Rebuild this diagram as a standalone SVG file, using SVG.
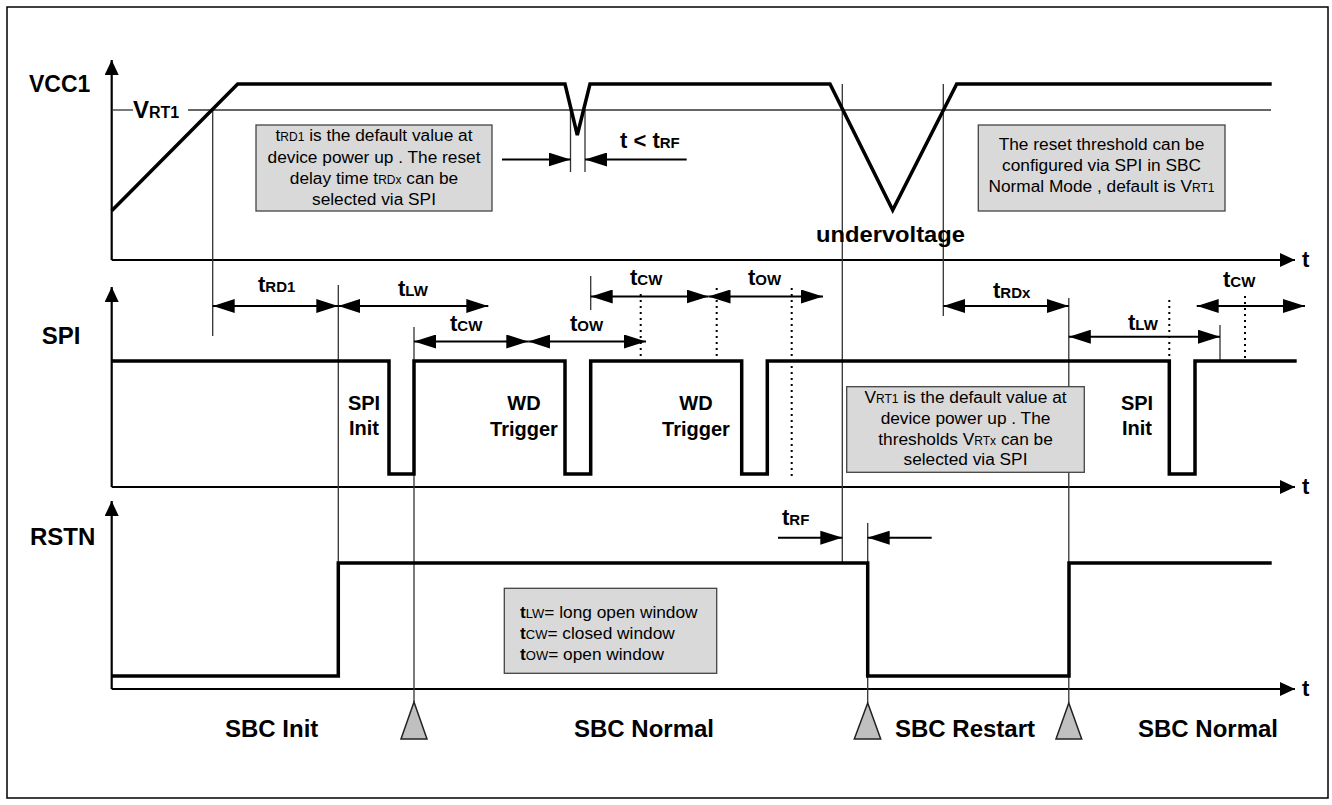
<svg xmlns="http://www.w3.org/2000/svg" width="1332" height="805" viewBox="0 0 1332 805">
<style>
text{font-family:"Liberation Sans",Arial,sans-serif;fill:#000}
.b{font-weight:bold}
.ax{font-weight:bold;font-size:24px}
.lb{font-weight:bold;font-size:20px}
.tl{font-weight:bold;font-size:22px}
.ts{font-size:15px}
.bx{font-size:17.3px}
.bs{font-size:12px}
.ls{font-size:13px}
.sig{fill:none;stroke:#000;stroke-width:3.5;stroke-linejoin:miter}
.axis{fill:none;stroke:#000;stroke-width:2.2}
.thin{fill:none;stroke:#333;stroke-width:1.3}
.dot{fill:none;stroke:#000;stroke-width:2;stroke-dasharray:2 4}
.dim{fill:none;stroke:#000;stroke-width:2}
.box{fill:#d9d9d9;stroke:#444;stroke-width:1.3}
.tri{fill:#c0c0c0;stroke:#222;stroke-width:1.5}
</style>
<defs>
<marker id="ah" markerUnits="userSpaceOnUse" markerWidth="22" markerHeight="14" refX="22" refY="7" orient="auto-start-reverse"><path d="M0,0 L22,7 L0,14 z" fill="#000"/></marker>
<marker id="axh" markerUnits="userSpaceOnUse" markerWidth="15" markerHeight="14" refX="15" refY="7" orient="auto"><path d="M0,0 L15,7 L0,14 z" fill="#000"/></marker>
</defs>
<rect x="7" y="7" width="1321" height="791" fill="#fff" stroke="#000" stroke-width="1.5"/>

<g id="axes">
<polyline class="axis" points="111.7,260 111.7,60" marker-end="url(#axh)"/>
<polyline class="axis" points="111.7,260 1295,260" marker-end="url(#axh)"/>
<polyline class="axis" points="111.7,487 111.7,287" marker-end="url(#axh)"/>
<polyline class="axis" points="111.7,487 1295,487" marker-end="url(#axh)"/>
<polyline class="axis" points="111.7,689 111.7,501" marker-end="url(#axh)"/>
<polyline class="axis" points="111.7,689 1295,689" marker-end="url(#axh)"/>
<text class="tl" x="1302" y="267">t</text>
<text class="tl" x="1302" y="494">t</text>
<text class="tl" x="1302" y="696">t</text>
<text x="29" y="92" class="b" font-size="23">VCC1</text>
<text x="41.7" y="344" class="ax">SPI</text>
<text x="30" y="545" class="ax">RSTN</text>
</g>

<g id="threshold">
<line class="thin" x1="111.7" y1="110" x2="133" y2="110"/>
<line class="thin" x1="188" y1="110" x2="1271" y2="110"/>
<text x="133" y="118" class="b" font-size="24">V<tspan font-size="16">RT1</tspan></text>
</g>

<g id="guides">
<line class="thin" x1="212.7" y1="110" x2="212.7" y2="336"/>
<line class="thin" x1="338.3" y1="285" x2="338.3" y2="563"/>
<line class="thin" x1="414" y1="327" x2="414" y2="702"/>
<line class="thin" x1="590.7" y1="276" x2="590.7" y2="310"/>
<line class="thin" x1="570.5" y1="110" x2="570.5" y2="172"/>
<line class="thin" x1="585" y1="110" x2="585" y2="172"/>
<line class="thin" x1="842.3" y1="84" x2="842.3" y2="563"/>
<line class="thin" x1="867.7" y1="523" x2="867.7" y2="703"/>
<line class="thin" x1="943.3" y1="84" x2="943.3" y2="316"/>
<line class="thin" x1="1068.8" y1="298" x2="1068.8" y2="703"/>
<line class="thin" x1="1220" y1="325" x2="1220" y2="360"/>
<line class="dot" x1="640.7" y1="294" x2="640.7" y2="360"/>
<line class="dot" x1="716.7" y1="288" x2="716.7" y2="360"/>
<line class="dot" x1="791.7" y1="288" x2="791.7" y2="476"/>
<line class="dot" x1="1169.3" y1="300" x2="1169.3" y2="360"/>
<line class="dot" x1="1245" y1="296" x2="1245" y2="360"/>
</g>

<g id="signals">
<polyline id="vcc1" class="sig" points="111.7,210.7 237.7,84 565,84 577.3,135 590,84 830,84 892.7,210 956.7,84 1271.7,84"/>
<polyline id="spi" class="sig" points="111.7,361 389,361 389,474 414,474 414,361 565,361 565,474 590.7,474 590.7,361 741.7,361 741.7,474 767.3,474 767.3,361 1169.3,361 1169.3,474 1195,474 1195,361 1296.7,361"/>
<polyline id="rstn" class="sig" points="111.7,676 338.3,676 338.3,563 867.7,563 867.7,676 1069,676 1069,563 1271.7,563"/>
</g>

<g id="connectors">
<line class="dim" x1="212.7" y1="306" x2="338.3" y2="306" marker-start="url(#ah)" marker-end="url(#ah)"/>
<line class="dim" x1="338.3" y1="306" x2="488.3" y2="306" marker-start="url(#ah)" marker-end="url(#ah)"/>
<line class="dim" x1="414" y1="341.5" x2="528.3" y2="341.5" marker-start="url(#ah)" marker-end="url(#ah)"/>
<line class="dim" x1="528.3" y1="341.5" x2="646" y2="341.5" marker-start="url(#ah)" marker-end="url(#ah)"/>
<line class="dim" x1="590.7" y1="296.5" x2="708.5" y2="296.5" marker-start="url(#ah)" marker-end="url(#ah)"/>
<line class="dim" x1="708.5" y1="296.5" x2="823" y2="296.5" marker-start="url(#ah)" marker-end="url(#ah)"/>
<line class="dim" x1="943.3" y1="306" x2="1068.8" y2="306" marker-start="url(#ah)" marker-end="url(#ah)"/>
<line class="dim" x1="1068.8" y1="336.7" x2="1220" y2="336.7" marker-start="url(#ah)" marker-end="url(#ah)"/>
<line class="dim" x1="1196.7" y1="306" x2="1305" y2="306" marker-start="url(#ah)" marker-end="url(#ah)"/>
<line class="dim" x1="502" y1="159.5" x2="570.5" y2="159.5" marker-end="url(#ah)"/>
<line class="dim" x1="686.7" y1="159.5" x2="585" y2="159.5" marker-end="url(#ah)"/>
<line class="dim" x1="778" y1="537.7" x2="842.3" y2="537.7" marker-end="url(#ah)"/>
<line class="dim" x1="931.7" y1="537.7" x2="867.7" y2="537.7" marker-end="url(#ah)"/>
</g>

<g id="timing-labels">
<text class="tl" x="258" y="292">t<tspan class="ts">RD1</tspan></text>
<text class="tl" x="398" y="296">t<tspan class="ts">LW</tspan></text>
<text class="tl" x="450" y="331">t<tspan class="ts">CW</tspan></text>
<text class="tl" x="570" y="331">t<tspan class="ts">OW</tspan></text>
<text class="tl" x="630" y="285">t<tspan class="ts">CW</tspan></text>
<text class="tl" x="748" y="285">t<tspan class="ts">OW</tspan></text>
<text class="tl" x="993" y="298">t<tspan class="ts">RDx</tspan></text>
<text class="tl" x="1128" y="330">t<tspan class="ts">LW</tspan></text>
<text class="tl" x="1223" y="287">t<tspan class="ts">CW</tspan></text>
<text class="tl" x="620" y="148">t &lt; t<tspan class="ts">RF</tspan></text>
<text class="tl" x="782" y="525">t<tspan class="ts">RF</tspan></text>
<text class="b" font-size="22" x="816" y="242" textLength="149" lengthAdjust="spacingAndGlyphs">undervoltage</text>
</g>

<g id="event-labels" text-anchor="middle">
<text class="lb" x="364" y="410">SPI</text>
<text class="lb" x="364" y="435">Init</text>
<text class="lb" x="524" y="410">WD</text>
<text class="lb" x="524" y="436">Trigger</text>
<text class="lb" x="696" y="410">WD</text>
<text class="lb" x="696" y="436">Trigger</text>
<text class="lb" x="1137" y="410">SPI</text>
<text class="lb" x="1137" y="435">Init</text>
</g>

<g id="box1">
<rect class="box" x="256" y="125" width="236" height="86"/>
<text class="bx" text-anchor="middle" x="374" y="141">t<tspan class="bs">RD1</tspan> is the default value at</text>
<text class="bx" text-anchor="middle" x="374" y="162.5">device power up . The reset</text>
<text class="bx" text-anchor="middle" x="374" y="184">delay time t<tspan class="bs">RDx</tspan> can be</text>
<text class="bx" text-anchor="middle" x="374" y="205">selected via SPI</text>
</g>

<g id="box3">
<rect class="box" x="978.3" y="125" width="246.7" height="86"/>
<text class="bx" text-anchor="middle" x="1101.5" y="150">The reset threshold can be</text>
<text class="bx" text-anchor="middle" x="1101.5" y="171">configured via SPI in SBC</text>
<text class="bx" text-anchor="middle" x="1101.5" y="192">Normal Mode , default is V<tspan class="bs">RT1</tspan></text>
</g>

<g id="box2">
<rect class="box" x="846.7" y="386.7" width="237.6" height="85.6"/>
<text class="bx" text-anchor="middle" x="965.5" y="402.5">V<tspan class="bs">RT1</tspan> is the default value at</text>
<text class="bx" text-anchor="middle" x="965.5" y="423.5">device power up . The</text>
<text class="bx" text-anchor="middle" x="965.5" y="445">thresholds V<tspan class="bs">RTx</tspan> can be</text>
<text class="bx" text-anchor="middle" x="965.5" y="465">selected via SPI</text>
</g>

<g id="legend">
<rect class="box" x="504.3" y="588.3" width="212.4" height="85"/>
<text class="bx" x="520" y="618.3"><tspan font-weight="bold">t</tspan><tspan class="ls">LW</tspan>= long open window</text>
<text class="bx" x="520" y="639"><tspan font-weight="bold">t</tspan><tspan class="ls">CW</tspan>= closed window</text>
<text class="bx" x="520" y="660"><tspan font-weight="bold">t</tspan><tspan class="ls">OW</tspan>= open window</text>
</g>

<g id="modes">
<polygon class="tri" points="414,702 401,739 427,739"/>
<polygon class="tri" points="867.7,703 854.3,739 880.7,739"/>
<polygon class="tri" points="1068.8,703 1056,739 1081.7,739"/>
<text class="ax" x="225" y="737">SBC Init</text>
<text class="ax" x="574" y="737">SBC Normal</text>
<text class="ax" x="895" y="737">SBC Restart</text>
<text class="ax" x="1138" y="737">SBC Normal</text>
</g>
</svg>
